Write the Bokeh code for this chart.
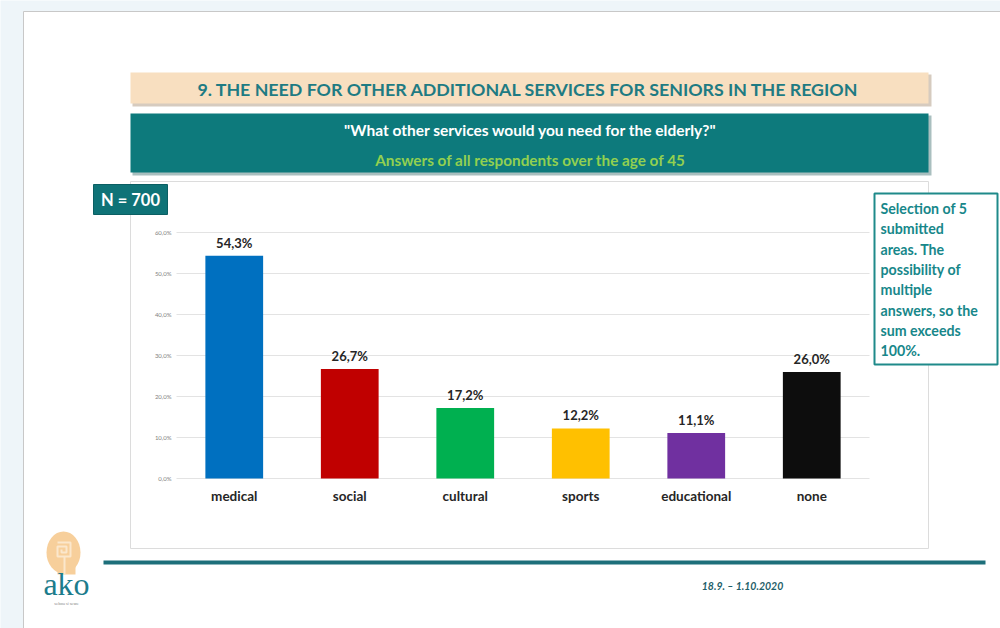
from bokeh.plotting import figure
from bokeh.models import Range1d
from bokeh.core.properties import value
from bokeh.embed import file_html
from bokeh.resources import INLINE

# ---- data ----
categories = ["medical", "social", "cultural", "sports", "educational", "none"]
shares = [54.3, 26.7, 17.2, 12.2, 11.1, 26.0]
bar_colors = ["#0070c0", "#c00000", "#00b050", "#ffc000", "#7030a0", "#0d0d0d"]
y_ticks = [0, 10, 20, 30, 40, 50, 60]
y_tick_labels = ["0,0%", "10,0%", "20,0%", "30,0%", "40,0%", "50,0%", "60,0%"]

title_text = "9. THE NEED FOR OTHER ADDITIONAL SERVICES FOR SENIORS IN THE REGION"
question_text = '"What other services would you need for the elderly?"'
subtitle_text = "Answers of all respondents over the age of 45"
n_text = "N = 700"
note_lines = ["Selection of 5", "submitted", "areas. The", "possibility of",
              "multiple", "answers, so the", "sum exceeds", "100%."]
date_text = "18.9. \u2013 1.10.2020"

FONT = "Lato"
W, H = 1000, 628
# chart plot-area placement on the canvas (pixels)
PL, PR, PT, PB = 176, 869, 232, 478
YMAX = 60

p = figure(width=W, height=H, x_range=Range1d(0, W), y_range=Range1d(H, 0),
           output_backend="svg", toolbar_location=None,
           x_axis_location=None, y_axis_location=None, min_border=0)
p.background_fill_color = "#eef5f9"
p.border_fill_color = "#eef5f9"
p.outline_line_color = None
p.grid.visible = False

n = len(categories)
sx = n / (PR - PL)
sy = YMAX / (PB - PT)
p.extra_x_ranges = {"cat": Range1d(-0.5 - PL * sx, n - 0.5 + (W - PR) * sx)}
p.extra_y_ranges = {"pct": Range1d(-(H - PB) * sy, YMAX + PT * sy)}


def box(x0, y0, x1, y1, fill, line=None, lw=1):
    p.quad(left=[x0], right=[x1], top=[y0], bottom=[y1], fill_color=fill,
           fill_alpha=1 if fill else 0, line_color=line, line_width=lw,
           line_alpha=1 if line else 0)


def label(x, y, text, size, color, style="bold", align="center", font=FONT):
    p.text(x=[x], y=[y], text=[text], text_font=value(font), text_font_size=size,
           text_font_style=style, text_color=color, text_align=align,
           text_baseline="middle")


# slide background
box(23, 11, 1010, 640, "white", "#c8c8c8", 1)
# title banner + shadow
box(132, 74, 931, 106, "#d6cbbf")
box(130, 72, 928, 103, "#f8dfc0")
# question banner + shadow
box(132, 115, 931, 175, "#a9bfbf")
box(130, 113, 928, 172, "#0d7a7c")
# chart area box
box(130, 181, 928, 548, "white", "#dcdcdc", 1)
# N box
box(93, 184, 167, 214, "#0f7377", "#0b5f63", 1)
# note box
box(874, 193, 997, 364, "white", "#1f8a8a", 2)
# footer line
box(103, 560, 985, 564, "#1d6f7a")

# logo
p.ellipse(x=[63], y=[552], width=[34], height=[42], fill_color="#f7cf9b", line_color=None)
p.quad(left=[57], right=[75], top=[558], bottom=[574], fill_color="#f7cf9b", line_color=None)
p.line(x=[57, 70, 70, 57, 57, 66, 66, 61, 61], y=[542, 542, 556, 556, 546, 546, 552, 552, 549],
       line_color="#fbe7cc", line_width=2)
p.line(x=[64, 64], y=[556, 574], line_color="#fbe7cc", line_width=2)
label(66, 583, "ako", "32px", "#1c7c8c", style="normal", font="Liberation Serif")
label(66, 603, "sebou si sewe", "4px", "#8c8c8c", style="normal")

label(528, 88, title_text, "17.8px", "#1e7b83")
label(530, 129, question_text, "15.5px", "white")
label(530, 159, subtitle_text, "15.3px", "#92d050")
label(130, 199, n_text, "16.5px", "white")
for i, ln in enumerate(note_lines):
    label(880, 208 + i * 20.3, ln, "14.2px", "#17878a", align="left")
label(742, 585, date_text, "10.5px", "#1f5f6a", style="bold italic")

# ---- chart (drawn through the 'cat' / 'pct' scales) ----
positions = list(range(n))
cr = dict(x_range_name="cat", y_range_name="pct")

# gridlines
p.segment(x0=[-0.5] * len(y_ticks), x1=[n - 0.5] * len(y_ticks), y0=y_ticks, y1=y_ticks,
          line_color="#e3e3e3", line_width=1, **cr)
# y tick labels
p.text(x=[-0.5] * len(y_ticks), y=y_ticks, text=y_tick_labels, x_offset=-5,
       text_align="right", text_baseline="middle", text_font=value(FONT),
       text_font_size="6px", text_color="#7f7f7f", **cr)
# bars
p.vbar(x=positions, top=shares, bottom=0, width=0.5, fill_color=bar_colors,
       line_color=None, **cr)
# value labels
p.text(x=positions, y=shares, text=[f"{v:.1f}".replace(".", ",") + "%" for v in shares],
       y_offset=-5, text_align="center", text_baseline="bottom", text_font=value(FONT),
       text_font_style="bold", text_font_size="13px", text_color="#262626", **cr)
# category labels
p.text(x=positions, y=[0] * n, text=categories, y_offset=9, text_align="center",
       text_baseline="top", text_font=value(FONT), text_font_style="bold",
       text_font_size="13.5px", text_color="#262626", **cr)

open("out.html", "w").write(file_html(p, INLINE))
